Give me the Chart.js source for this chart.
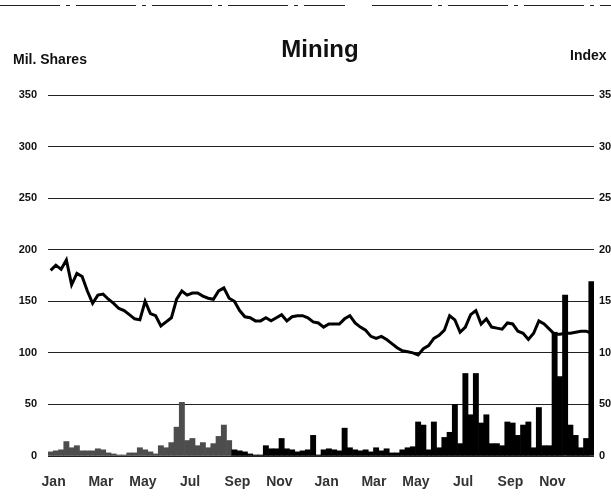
<!DOCTYPE html>
<html><head><meta charset="utf-8">
<script src="https://cdn.jsdelivr.net/npm/chart.js@4"></script>
<style>html,body{margin:0;padding:0;overflow:hidden;background:#fff}#wrap{width:625px;height:499px;position:relative}</style>
</head><body><div id="wrap"><canvas id="c"></canvas></div>
<script>
// categories: 104 weeks over two years
const weeks = Array.from({length: 104}, (_, i) => 'Y' + (i < 52 ? 1 : 2) + '-W' + ((i % 52) + 1));

// month tick labels and the week each one sits on
const tickLabels = ['Jan','Mar','May','Jul','Sep','Nov','Jan','Mar','May','Jul','Sep','Nov'];
const tickWeeks  = [0, 9, 17, 26, 35, 43, 52, 61, 69, 78, 87, 95];

// Index (right axis)
const indexValues = [180,185,181,190,166,177,174,160,148,156,
157,152,148,143,141,137,133,132,150,138,
136,126,130,134,152,160,156,158,158,155,
153,152,160,163,153,150,141,135,134,131,
131,134,131,134,137,131,135,136,136,134,
130,129,125,128,128,128,133,136,129,125,
122,116,114,116,113,109,105,102,101,100,
98,104,107,114,117,122,136,132,120,125,
137,141,128,133,125,124,123,129,128,121,
119,113,119,131,128,123,118,118,119,119,
120,121,121,119];

// Volume, Mil. Shares (left axis)
const volumeValues = [4,5,6,14,8,10,5,5,5,7,
6,3,2,1,1,3,3,8,6,4,
2,10,8,13,28,52,15,17,10,13,
8,12,19,30,15,6,5,4,2,1,
1,10,7,7,17,7,6,4,5,6,
20,1,6,7,6,5,27,8,6,5,
6,4,8,5,7,3,3,6,8,9,
33,30,6,33,8,18,23,50,12,80,
40,80,32,40,12,12,10,33,32,20,
30,33,8,47,10,10,120,77,156,30,
20,8,17,169];

const grayUntilWeek = 35;
const FONT = "'Liberation Sans', Arial, sans-serif";

const decor = {
  id: 'decor',
  afterDraw(chart) {
    const c = chart.ctx;
    c.save();
    c.fillStyle = '#111';
    c.textBaseline = 'middle';
    c.font = 'bold 14px ' + FONT;
    c.textAlign = 'left';
    c.fillText('Mil. Shares', 13, 60);
    c.fillText('Index', 570, 56);
    c.font = 'bold 24px ' + FONT;
    c.textAlign = 'center';
    c.fillText('Mining', 320, 50);
    // border line at top of scan
    c.strokeStyle = '#222';
    c.lineWidth = 1;
    c.setLineDash([60, 6, 4, 6]);
    c.beginPath(); c.moveTo(0, 5.5); c.lineTo(345, 5.5); c.moveTo(372, 5.5); c.lineTo(611, 5.5); c.stroke();
    c.restore();
  }
};

new Chart(document.getElementById('c'), {
  data: {
    labels: weeks,
    datasets: [
      {
        type: 'line', data: indexValues, yAxisID: 'y2',
        borderColor: '#000', borderWidth: 3, pointRadius: 0, tension: 0, order: 1
      },
      {
        type: 'bar', data: volumeValues, yAxisID: 'y',
        backgroundColor: ctx => ctx.dataIndex < grayUntilWeek ? '#4d4d4d' : '#000',
        borderWidth: 0, barPercentage: 1, categoryPercentage: 1, order: 2
      }
    ]
  },
  options: {
    responsive: true, maintainAspectRatio: false, animation: false,
    devicePixelRatio: 1,
    layout: { padding: { top: 95, left: 0, right: 0, bottom: 0 } },
    plugins: { legend: { display: false }, tooltip: { enabled: false }, title: { display: false } },
    scales: {
      x: {
        type: 'category',
        grid: { display: false, drawTicks: false },
        border: { display: false },
        afterBuildTicks: s => { s.ticks = tickWeeks.map(v => ({ value: v })); },
        afterFit: s => { s.height = 43; },
        ticks: {
          autoSkip: false, maxRotation: 0, minRotation: 0, padding: 18, labelOffset: 3,
          color: '#333', font: { family: FONT, size: 14, weight: 'bold' },
          callback: (v) => { const k = tickWeeks.indexOf(v); return k >= 0 ? tickLabels[k] : ''; }
        }
      },
      y: {
        position: 'left', min: 0, max: 350,
        afterFit: s => { s.width = 48; },
        grid: { color: '#222', lineWidth: 1, drawTicks: false },
        border: { display: false },
        ticks: { stepSize: 50, padding: 11, color: '#111', font: { family: FONT, size: 11, weight: 'bold' } }
      },
      y2: {
        position: 'right', min: 0, max: 350,
        afterFit: s => { s.width = 31; },
        grid: { display: false, drawTicks: false },
        border: { display: false },
        ticks: { stepSize: 50, padding: 5, color: '#111', font: { family: FONT, size: 11, weight: 'bold' } }
      }
    }
  },
  plugins: [decor]
});
</script>
</body></html>
